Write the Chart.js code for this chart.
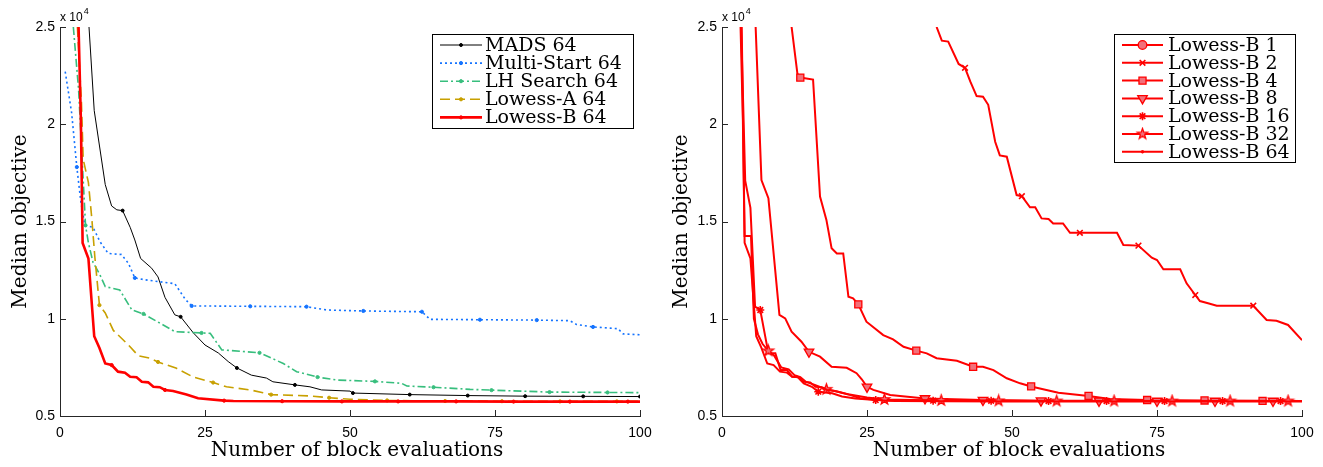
<!DOCTYPE html>
<html>
<head>
<meta charset="UTF-8">
<style>
  body { margin: 0; background: #fff; }
  canvas { position: absolute; top: 0; }
  #leftChart { left: 0; }
  #rightChart { left: 661px; }
</style>
<script src="https://cdn.jsdelivr.net/npm/chart.js"></script>
</head>
<body>
<canvas id="leftChart" width="661" height="467"></canvas>
<canvas id="rightChart" width="662" height="467"></canvas>
<script>
// values are in units of 1e4 (see the "x 10^4" label)
var xTicks = [0, 25, 50, 75, 100];
var yTicks = [0.5, 1, 1.5, 2, 2.5];
var xTitle = 'Number of block evaluations';
var yTitle = 'Median objective';

// ---- left panel ----
var madsX = [5, 5.9, 7.8, 8.9, 9.8, 10.8, 12.1, 12.9, 13.9, 15.8, 16.9, 18.1, 19.8, 20.8, 23, 25, 27.3, 29, 30.5, 33, 35.6, 36.7, 40.5, 43.1, 45.1, 50, 50.5, 60.3, 70.3, 80.2, 90.2, 100];
var madsY = [2.5, 2.07, 1.69, 1.58, 1.56, 1.556, 1.47, 1.405, 1.31, 1.26, 1.215, 1.11, 1.02, 1.01, 0.927, 0.865, 0.824, 0.78, 0.747, 0.71, 0.695, 0.676, 0.66, 0.65, 0.634, 0.628, 0.618, 0.61, 0.605, 0.602, 0.601, 0.6];
var madsMarks = [10.8, 20.8, 30.5, 40.5, 50.5, 60.3, 70.3, 80.2, 90.2, 100];

var multiX = [0.9, 2, 2.9, 3.6, 4.3, 5.7, 6.9, 8.3, 10.6, 11.8, 12.9, 14.7, 19.8, 21.6, 22.7, 32.8, 42.5, 46, 52.3, 62.4, 63.8, 72.4, 82.2, 87.9, 89.1, 91.9, 96.2, 97.1, 100];
var multiY = [2.27, 2.06, 1.78, 1.6, 1.48, 1.47, 1.396, 1.336, 1.33, 1.285, 1.21, 1.2, 1.18, 1.1, 1.066, 1.064, 1.062, 1.045, 1.04, 1.036, 0.997, 0.995, 0.993, 0.99, 0.97, 0.958, 0.949, 0.922, 0.918];
var multiMarks = [2.9, 12.9, 22.7, 32.8, 42.5, 52.3, 62.4, 72.4, 82.2, 91.9];

var lhX = [2.3, 3.2, 4.4, 4.9, 5.7, 6.9, 7.8, 10.3, 12.4, 14.4, 17.8, 19.8, 24.4, 25.9, 27.9, 34.4, 38.5, 40.8, 44.4, 47.7, 54.3, 58.9, 59.8, 64.4, 70.7, 74.4, 84.4, 94.4, 100];
var lhY = [2.5, 2.18, 1.48, 1.39, 1.29, 1.225, 1.165, 1.148, 1.045, 1.025, 0.968, 0.934, 0.927, 0.925, 0.84, 0.825, 0.77, 0.728, 0.7, 0.685, 0.678, 0.668, 0.654, 0.648, 0.637, 0.633, 0.623, 0.621, 0.62];
var lhMarks = [4.4, 14.4, 24.4, 34.4, 44.4, 54.3, 64.4, 74.4, 84.4, 94.4];

var lowAX = [3, 3.7, 4, 4.9, 5.5, 6, 6.8, 7.8, 9.2, 11.8, 13.5, 15.5, 16.9, 20.1, 23, 26.4, 28.7, 32.8, 35, 36.4, 43.1, 46.4, 50, 56.4, 66.4, 76.2, 86.2, 96, 100];
var lowAY = [2.5, 2.11, 1.82, 1.7, 1.51, 1.32, 1.07, 1.03, 0.94, 0.865, 0.81, 0.797, 0.778, 0.745, 0.7, 0.672, 0.65, 0.634, 0.62, 0.61, 0.603, 0.594, 0.586, 0.58, 0.577, 0.576, 0.575, 0.575, 0.575];
var lowAMarks = [6.8, 16.9, 26.4, 36.4, 46.4, 56.4, 66.4, 76.2, 86.2, 96];

var b64X = [3.2, 3.6, 3.9, 4.9, 5.9, 6.8, 7.8, 8.9, 10, 11.2, 12.1, 13.2, 14.1, 15.2, 16.1, 17.2, 18.1, 19.5, 21.8, 23.8, 28.3, 29.9, 38.3, 48.6, 58.3, 68.3, 78.2, 87.9, 97.9, 100];
var b64Y = [2.5, 2.02, 1.39, 1.31, 0.91, 0.85, 0.77, 0.762, 0.728, 0.723, 0.702, 0.699, 0.676, 0.673, 0.65, 0.648, 0.634, 0.629, 0.611, 0.591, 0.579, 0.577, 0.576, 0.575, 0.575, 0.575, 0.574, 0.574, 0.574, 0.574];
var b64Marks = [8.9, 18.1, 28.3, 38.3, 48.6, 58.3, 68.3, 78.2, 87.9, 97.9];

// ---- right panel ----
// Lowess-B 1 stays above the plotted range, so nothing of it is visible
var b1X = [];
var b1Y = [];
var b1Marks = [];

var b2X = [37, 37.9, 39, 40.8, 41.9, 42.8, 43.9, 45, 45.9, 47.1, 47.9, 49.1, 50.8, 51.7, 53.1, 54, 55.1, 56.3, 57.1, 58.8, 60, 61.7, 68.1, 69.2, 71.8, 74.1, 75, 76.1, 79, 80.1, 81.6, 82.4, 83.8, 85.3, 91.6, 93.9, 95.6, 97.6, 100];
var b2Y = [2.5, 2.43, 2.425, 2.31, 2.29, 2.22, 2.145, 2.142, 2.1, 1.91, 1.84, 1.833, 1.636, 1.63, 1.573, 1.573, 1.516, 1.513, 1.49, 1.49, 1.442, 1.442, 1.442, 1.379, 1.376, 1.314, 1.302, 1.254, 1.254, 1.182, 1.122, 1.091, 1.08, 1.067, 1.067, 0.994, 0.99, 0.968, 0.89];
var b2Marks = [41.9, 51.7, 61.7, 71.8, 81.6, 91.6];

var b4X = [12, 13, 13.5, 15.7, 16.9, 18, 18.9, 19.8, 20.9, 21.8, 22.6, 23.5, 24.9, 27.8, 29.5, 31.3, 33.5, 35.3, 37, 40.5, 43.3, 45, 46.8, 49.1, 51.4, 53.3, 58, 63.2, 66.9, 73.3, 83.2, 93.2, 100];
var b4Y = [2.5, 2.26, 2.24, 2.23, 1.628, 1.508, 1.362, 1.336, 1.336, 1.113, 1.105, 1.074, 0.985, 0.916, 0.894, 0.856, 0.836, 0.822, 0.797, 0.784, 0.753, 0.753, 0.736, 0.694, 0.668, 0.652, 0.62, 0.603, 0.587, 0.582, 0.58, 0.578, 0.577];
var b4Marks = [13.5, 23.5, 33.5, 43.3, 53.3, 63.2, 73.3, 83.2, 93.2];

var b8X = [5.8, 6.8, 8, 9.9, 10.9, 12, 13.7, 15, 16.9, 18.9, 21.5, 23.2, 24.1, 25, 26.1, 29, 35, 45, 55, 65, 75, 85, 95, 100];
var b8Y = [2.5, 1.713, 1.62, 1.02, 1.002, 0.933, 0.882, 0.83, 0.805, 0.753, 0.748, 0.72, 0.689, 0.65, 0.634, 0.608, 0.59, 0.582, 0.579, 0.578, 0.577, 0.577, 0.577, 0.577];
var b8Marks = [15, 25, 35, 45, 55, 65, 75, 85, 95];

var b16X = [3.3, 4, 4.9, 5.7, 6.6, 8, 9.2, 10.1, 11.2, 12.1, 13, 14.1, 15.5, 16.6, 19, 20.7, 23, 26.5, 36.4, 46.4, 56.3, 66.3, 76.3, 86.3, 96.3, 100];
var b16Y = [2.5, 1.71, 1.57, 1.062, 1.045, 0.822, 0.822, 0.736, 0.736, 0.702, 0.702, 0.668, 0.65, 0.625, 0.617, 0.6, 0.59, 0.582, 0.579, 0.578, 0.577, 0.577, 0.577, 0.577, 0.577, 0.577];
var b16Marks = [6.6, 16.6, 26.5, 36.4, 46.4, 56.3, 66.3, 76.3, 86.3, 96.3];

var b32X = [3.4, 3.9, 5, 5.5, 6.2, 7, 8, 9, 10.2, 11.5, 12.5, 13.5, 14.5, 16, 18, 20, 22, 25, 28, 37.8, 47.7, 57.7, 67.6, 77.6, 87.6, 97.6, 100];
var b32Y = [2.5, 1.425, 1.425, 1, 0.92, 0.87, 0.835, 0.81, 0.75, 0.74, 0.71, 0.7, 0.675, 0.66, 0.637, 0.625, 0.61, 0.595, 0.585, 0.58, 0.578, 0.577, 0.577, 0.577, 0.577, 0.577, 0.577];
var b32Marks = [8, 18, 28, 37.8, 47.7, 57.7, 67.6, 77.6, 87.6, 97.6];

var serif = "'DejaVu Serif', serif";
var sans = "'Liberation Sans', Arial, sans-serif";
var RED = '#f00';
var PINK = 'rgb(242,112,122)';

function pts(xs, ys) {
	return xs.map(function (x, i) { return {x: x, y: ys[i]}; });
}
function radii(xs, marks, r) {
	return xs.map(function (x) { return marks.indexOf(x) >= 0 ? r : 0; });
}

// filled five-point star (matlab 'p' marker)
function starImage(r) {
	var c = document.createElement('canvas');
	c.width = c.height = Math.ceil(2 * r + 4);
	var g = c.getContext('2d');
	var m = c.width / 2;
	g.beginPath();
	for (var i = 0; i < 10; i++) {
		var rr = i % 2 ? r * 0.4 : r;
		var a = -Math.PI / 2 + i * Math.PI / 5;
		g.lineTo(m + rr * Math.cos(a), m + rr * Math.sin(a));
	}
	g.closePath();
	g.fillStyle = PINK; g.fill();
	g.strokeStyle = RED; g.lineWidth = 1.3; g.stroke();
	return c;
}
var star = starImage(5.5);

function series(label, xs, ys, marks, st, i) {
	return {
		label: label,
		data: pts(xs, ys),
		borderColor: st.color,
		borderWidth: st.width,
		borderDash: st.dash || [],
		pointStyle: st.point || 'circle',
		pointRotation: st.rot || 0,
		pointRadius: radii(xs, marks, st.r),
		pointHoverRadius: 0,
		pointBackgroundColor: st.fill || st.color,
		pointBorderColor: st.color,
		pointBorderWidth: st.pbw || 1,
		legendRadius: st.r,
		tension: 0,
		fill: false,
		order: 20 - i
	};
}

var boxLegend = {
	id: 'boxLegend',
	afterDatasetsDraw: function (chart, args, opts) {
		var ctx = chart.ctx, area = chart.chartArea;
		var sets = chart.data.datasets;
		ctx.save();
		ctx.font = opts.size + 'px ' + serif;
		var w = opts.width;
		var h = sets.length * opts.rowH + 3;
		var x0 = Math.round(area.right - opts.inset - w), y0 = Math.round(area.top + opts.inset);
		ctx.fillStyle = '#fff';
		ctx.fillRect(x0, y0, w, h);
		ctx.strokeStyle = '#000'; ctx.lineWidth = 1;
		ctx.strokeRect(x0 + 0.5, y0 + 0.5, w, Math.round(h));
		sets.forEach(function (d, i) {
			var cy = y0 + 11 + i * opts.rowH;
			ctx.setLineDash(d.borderDash);
			ctx.strokeStyle = d.borderColor; ctx.lineWidth = d.borderWidth;
			ctx.beginPath();
			ctx.moveTo(x0 + 8, cy); ctx.lineTo(x0 + 8 + opts.lineLen, cy);
			ctx.stroke();
			ctx.setLineDash([]);
			ctx.fillStyle = d.pointBackgroundColor;
			ctx.strokeStyle = d.pointBorderColor;
			ctx.lineWidth = d.pointBorderWidth;
			Chart.helpers.drawPoint(ctx, {pointStyle: d.pointStyle, rotation: d.pointRotation, radius: d.legendRadius, borderWidth: d.pointBorderWidth}, x0 + 8 + opts.lineLen / 2, cy);
			ctx.fillStyle = '#000';
			ctx.textBaseline = 'middle';
			ctx.fillText(d.label, x0 + opts.textOffset, cy + 1);
		});
		ctx.restore();
	}
};

// inward ticks, x label (matlab puts it a little right of centre) and the exponent note
var matlabAxes = {
	id: 'matlabAxes',
	afterDraw: function (chart) {
		var ctx = chart.ctx, a = chart.chartArea;
		var xs = chart.scales.x, ys = chart.scales.y;
		ctx.save();
		ctx.strokeStyle = '#262626'; ctx.lineWidth = 1;
		ctx.beginPath();
		xs.ticks.forEach(function (t) {
			var px = Math.round(xs.getPixelForValue(t.value)) + 0.5;
			ctx.moveTo(px, a.bottom); ctx.lineTo(px, a.bottom - 6);
		});
		ys.ticks.forEach(function (t) {
			var py = Math.round(ys.getPixelForValue(t.value)) + 0.5;
			ctx.moveTo(a.left, py); ctx.lineTo(a.left + 6, py);
		});
		ctx.stroke();
		ctx.fillStyle = '#000';
		ctx.font = '20px ' + serif;
		ctx.textAlign = 'center';
		ctx.textBaseline = 'middle';
		ctx.fillText(xTitle, (a.left + a.right) / 2 + 7, a.bottom + 35);
		ctx.textAlign = 'left';
		ctx.font = '12px ' + sans;
		ctx.textBaseline = 'alphabetic';
		ctx.fillText('x 10', a.left, a.top - 6);
		var w = ctx.measureText('x 10').width;
		ctx.font = '9px ' + sans;
		ctx.fillText('4', a.left + w + 1, a.top - 13);
		ctx.restore();
	}
};

function options(axisWidth, legendOpts) {
	return {
		responsive: false,
		animation: false,
		layout: {padding: {top: 27, right: 21, left: 0, bottom: 0}},
		plugins: {
			legend: {display: false},
			tooltip: {enabled: false},
			boxLegend: legendOpts
		},
		scales: {
			x: {
				type: 'linear', min: 0, max: 100,
				afterFit: function (s) { s.height = 51; },
				afterBuildTicks: function (s) { s.ticks = xTicks.map(function (v) { return {value: v}; }); },
				ticks: {color: '#000', font: {family: sans, size: 14}, padding: 9, maxRotation: 0},
				grid: {display: false, drawTicks: false},
				border: {color: '#262626', width: 1}
			},
			y: {
				type: 'linear', min: 0.5, max: 2.5,
				afterFit: function (s) { s.width = axisWidth; },
				afterBuildTicks: function (s) { s.ticks = yTicks.map(function (v) { return {value: v}; }); },
				ticks: {color: '#000', font: {family: sans, size: 14}, padding: 5, callback: function (v) { return String(v); }},
				grid: {display: false, drawTicks: false},
				border: {color: '#262626', width: 1},
				title: {display: true, text: yTitle, color: '#000', font: {family: serif, size: 20}, padding: {top: 9, bottom: 0}}
			}
		}
	};
}

new Chart('leftChart', {
	type: 'line',
	data: {
		datasets: [
			series('MADS 64', madsX, madsY, madsMarks, {color: '#000', width: 1, r: 1.5}, 0),
			series('Multi-Start 64', multiX, multiY, multiMarks, {color: 'rgb(20,115,255)', width: 1.6, dash: [2, 3], r: 1.6}, 1),
			series('LH Search 64', lhX, lhY, lhMarks, {color: 'rgb(55,190,125)', width: 1.6, dash: [8, 3, 2, 3], r: 1.6}, 2),
			series('Lowess-A 64', lowAX, lowAY, lowAMarks, {color: 'rgb(200,160,0)', width: 1.6, dash: [10, 5], r: 1.6}, 3),
			series('Lowess-B 64', b64X, b64Y, b64Marks, {color: RED, width: 2.6, r: 1.6}, 4)
		]
	},
	options: options(60, {size: 19, rowH: 18.1, inset: 7, lineLen: 42, textOffset: 53, width: 201}),
	plugins: [boxLegend, matlabAxes]
});

new Chart('rightChart', {
	type: 'line',
	data: {
		datasets: [
			series('Lowess-B 1', b1X, b1Y, b1Marks, {color: RED, width: 2, point: 'circle', r: 4.3, fill: PINK, pbw: 1.3}, 0),
			series('Lowess-B 2', b2X, b2Y, b2Marks, {color: RED, width: 2, point: 'crossRot', r: 4, pbw: 1.6}, 1),
			series('Lowess-B 4', b4X, b4Y, b4Marks, {color: RED, width: 2, point: 'rect', r: 5, fill: PINK, pbw: 1.3}, 2),
			series('Lowess-B 8', b8X, b8Y, b8Marks, {color: RED, width: 2, point: 'triangle', rot: 180, r: 5.5, fill: PINK, pbw: 1.3}, 3),
			series('Lowess-B 16', b16X, b16Y, b16Marks, {color: RED, width: 2, point: 'star', r: 4, pbw: 1.6}, 4),
			series('Lowess-B 32', b32X, b32Y, b32Marks, {color: RED, width: 2, point: star, r: 5.5}, 5),
			series('Lowess-B 64', b64X, b64Y, [], {color: RED, width: 2, point: 'circle', r: 1.3}, 6)
		]
	},
	options: options(61, {size: 19, rowH: 17.8, inset: 7, lineLen: 41, textOffset: 54, width: 181}),
	plugins: [boxLegend, matlabAxes]
});
</script>
</body>
</html>
